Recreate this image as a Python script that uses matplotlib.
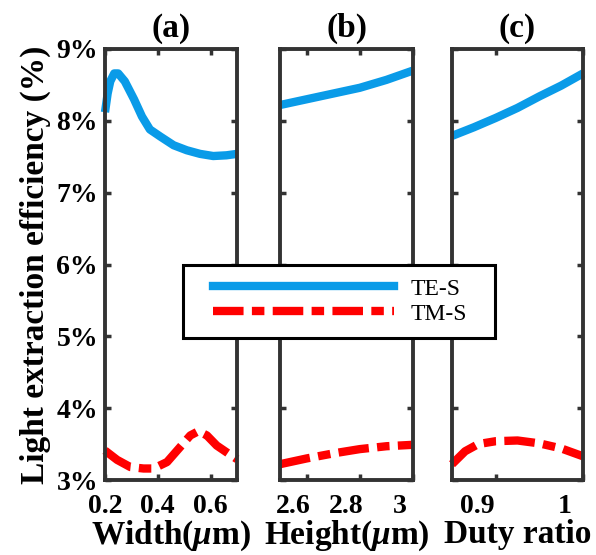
import matplotlib
matplotlib.use("Agg")
import matplotlib.pyplot as plt
import matplotlib.transforms as mtransforms
from matplotlib.lines import Line2D
from matplotlib.legend_handler import HandlerLine2D
from matplotlib.ticker import FuncFormatter

plt.rcParams["font.family"] = ["Liberation Serif", "DejaVu Serif"]
plt.rcParams["font.weight"] = "bold"
plt.rcParams["mathtext.fontset"] = "custom"
plt.rcParams["mathtext.rm"] = "Liberation Serif:bold"
plt.rcParams["mathtext.it"] = "Liberation Serif:italic:bold"
plt.rcParams["lines.scale_dashes"] = False

# (a) width sweep
width_te = [0.2, 0.21, 0.22, 0.235, 0.25, 0.275, 0.31, 0.34, 0.37, 0.41, 0.46, 0.51, 0.56, 0.61, 0.66, 0.7]
te_a = [8.12, 8.38, 8.55, 8.66, 8.66, 8.55, 8.30, 8.06, 7.88, 7.78, 7.66, 7.59, 7.54, 7.51, 7.52, 7.54]
width_tm = [0.2, 0.246, 0.296, 0.346, 0.384, 0.435, 0.485, 0.523, 0.554, 0.586, 0.623, 0.667, 0.7]
tm_a = [3.41, 3.28, 3.18, 3.16, 3.16, 3.25, 3.46, 3.62, 3.68, 3.62, 3.48, 3.37, 3.29]

# (b) height sweep
height = [2.5, 2.6, 2.7, 2.8, 2.9, 3.0]
te_b = [8.22, 8.30, 8.38, 8.46, 8.57, 8.70]
tm_b = [3.22, 3.30, 3.37, 3.43, 3.47, 3.49]

# (c) duty ratio sweep
duty_te = [0.85, 0.875, 0.9, 0.925, 0.95, 0.975, 1.0]
te_c = [7.79, 7.91, 8.04, 8.18, 8.34, 8.49, 8.66]
duty_tm = [0.85, 0.865, 0.88, 0.9, 0.925, 0.95, 0.975, 1.0]
tm_c = [3.22, 3.40, 3.50, 3.54, 3.55, 3.51, 3.44, 3.33]

panels = [
    {"title": "(a)", "xlabel": r"Width($\mu$m)", "xlim": (0.2, 0.7),
     "xticks": [0.2, 0.4, 0.6], "xticklabels": ["0.2", "0.4", "0.6"], "shift": 0,
     "te": (width_te, te_a), "tm": (width_tm, tm_a)},
    {"title": "(b)", "xlabel": r"Height($\mu$m)", "xlim": (2.5, 3.0),
     "xticks": [2.6, 2.8, 3.0], "xticklabels": ["2.6", "2.8", "3"], "shift": -9.5,
     "te": (height, te_b), "tm": (height, tm_b)},
    {"title": "(c)", "xlabel": "Duty ratio", "xlim": (0.85, 1.0),
     "xticks": [0.9, 1.0], "xticklabels": ["0.9", "1"], "shift": -13,
     "te": (duty_te, te_c), "tm": (duty_tm, tm_c)},
]

yticks = [3, 4, 5, 6, 7, 8, 9]

te_color = "#0a9be8"
tm_color = "#ff0000"
spine_color = "#333333"
tm_style = (0, (22, 6, 9, 6))
lw = 6

W, H = 596, 555
fig = plt.figure(figsize=(W / 100, H / 100), dpi=100)

lefts = [105, 280, 452]
widths = [132, 133, 131]
top, bottom = 49, 480

for i, p in enumerate(panels):
    ax = fig.add_axes([lefts[i] / W, 1 - bottom / H, widths[i] / W, (bottom - top) / H])
    ax.plot(*p["te"], color=te_color, lw=lw, solid_capstyle="butt", clip_on=False)
    ax.plot(*p["tm"], color=tm_color, lw=lw, linestyle=tm_style, clip_on=False)
    ax.set_xlim(*p["xlim"])
    ax.set_ylim(3, 9)
    ax.set_xticks(p["xticks"])
    ax.set_xticklabels(p["xticklabels"])
    ax.set_yticks(yticks)
    ax.yaxis.set_major_formatter(FuncFormatter(lambda v, pos: f"{v:.0f}%"))
    ax.tick_params(direction="in", length=4, width=2.5, color=spine_color,
                   top=True, right=True, labelsize=20)
    ax.tick_params(axis="x", pad=10)
    ax.tick_params(axis="y", pad=5)
    if i > 0:
        ax.tick_params(labelleft=False)
    for s in ax.spines.values():
        s.set_linewidth(2.8)
        s.set_color(spine_color)
    ax.set_title(p["title"], fontsize=24, fontweight="bold", pad=9)
    ax.set_xlabel(p["xlabel"], fontsize=24, fontweight="bold", labelpad=0)
    if p["shift"]:
        offset = mtransforms.ScaledTranslation(p["shift"] / 72, 0, fig.dpi_scale_trans)
        for lab in ax.get_xticklabels():
            lab.set_transform(lab.get_transform() + offset)
    if i == 0:
        ax.set_ylabel("Light extraction efficiency (%)", fontsize=24,
                      fontweight="bold", labelpad=4)

handles = [
    Line2D([], [], color=te_color, lw=lw),
    Line2D([], [], color=tm_color, lw=lw, linestyle=tm_style),
]
leg = fig.legend(handles, ["TE-S", "TM-S"], loc="upper left",
                 bbox_to_anchor=(183 / W, 1 - 335 / H, 312 / W, 70 / H), mode="expand",
                 prop={"family": "Liberation Serif", "weight": "normal", "size": 17},
                 frameon=True, fancybox=False, framealpha=1, edgecolor="black",
                 handlelength=8.4, handletextpad=0.7, borderpad=0.55,
                 labelspacing=0.15, borderaxespad=0,
                 handler_map={Line2D: HandlerLine2D(xpad=0.7)})
leg.get_frame().set_linewidth(2.2)

fig.savefig("out.png", dpi=100)
